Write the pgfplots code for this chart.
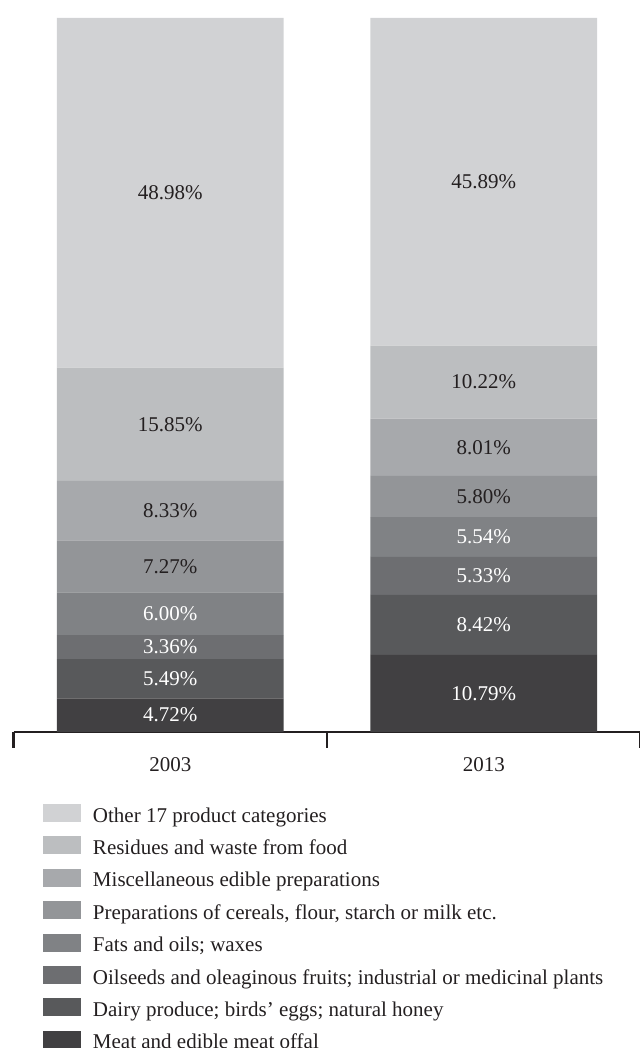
\documentclass[border=0pt]{standalone}
\usepackage{pgfplots}
\pgfplotsset{compat=1.18}
\usepackage{fontspec}
\setmainfont{Liberation Serif}
\definecolor{cOther}{HTML}{D1D2D4}
\definecolor{cRes}{HTML}{BCBEC0}
\definecolor{cMisc}{HTML}{A7A9AC}
\definecolor{cPrep}{HTML}{939598}
\definecolor{cFats}{HTML}{808285}
\definecolor{cOil}{HTML}{6D6E71}
\definecolor{cDairy}{HTML}{58595B}
\definecolor{cMeat}{HTML}{414042}
\definecolor{txt}{HTML}{231F20}
\begin{document}
\fontsize{21bp}{25bp}\selectfont
\begin{tikzpicture}
\path[use as bounding box] (0,0) rectangle (640bp,1048bp);
\begin{axis}[
  at={(13.5bp,316bp)}, anchor=south west,
  scale only axis, width=627bp, height=714bp,
  ybar stacked, bar width=0.724,
  xmin=-0.5, xmax=1.5, ymin=0, ymax=100,
  clip=false,
  axis x line*=bottom, axis y line=none,
  x axis line style={line width=2bp, color=txt},
  xtick={0,1}, xticklabels={2003,2013},
  major tick length=0pt,
  extra x ticks={-0.5,0.5,1.5}, extra x tick labels={},
  extra x tick style={major tick length=16bp, tick align=outside,
     tick style={line width=2.5bp, color=txt}},
  xticklabel style={anchor=base, yshift=-39bp, inner sep=0pt, text=txt, font=\fontsize{21bp}{25bp}\selectfont},
  visualization depends on={rawy \as \myrawy},
  nodes near coords={\pgfmathprintnumber[fixed,fixed zerofill,precision=2,assume math mode=true]{\myrawy}\%},
  every node near coord/.style={anchor=center, font=\fontsize{21bp}{25bp}\selectfont, inner sep=0pt},
  reverse legend,
  legend cell align=left,
  legend image code/.code={\fill[#1] (0bp,-5bp) rectangle (38bp,13bp); \path (50bp,0bp);},
  legend style={at={(0.04705,-0.10084)}, anchor=north west, draw=none, fill=none,
    inner sep=0pt, outer sep=0pt, row sep=9.4bp, text=txt,
    font=\fontsize{21bp}{25bp}\selectfont,
    nodes={inner sep=0pt, text height=15bp, text depth=5bp}},
]
\addplot[fill=cMeat, draw=none, every node near coord/.append style={text=white}] coordinates {(0,4.72) (1,10.79)};
\addlegendentry{Meat and edible meat offal}
\addplot[fill=cDairy, draw=none, every node near coord/.append style={text=white}] coordinates {(0,5.49) (1,8.42)};
\addlegendentry{Dairy produce; birds' eggs; natural honey}
\addplot[fill=cOil, draw=none, every node near coord/.append style={text=white}] coordinates {(0,3.36) (1,5.33)};
\addlegendentry{Oilseeds and oleaginous fruits; industrial or medicinal plants}
\addplot[fill=cFats, draw=none, every node near coord/.append style={text=white}] coordinates {(0,6.00) (1,5.54)};
\addlegendentry{Fats and oils; waxes}
\addplot[fill=cPrep, draw=none, every node near coord/.append style={text=txt}] coordinates {(0,7.27) (1,5.80)};
\addlegendentry{Preparations of cereals, flour, starch or milk etc.}
\addplot[fill=cMisc, draw=none, every node near coord/.append style={text=txt}] coordinates {(0,8.33) (1,8.01)};
\addlegendentry{Miscellaneous edible preparations}
\addplot[fill=cRes, draw=none, every node near coord/.append style={text=txt}] coordinates {(0,15.85) (1,10.22)};
\addlegendentry{Residues and waste from food}
\addplot[fill=cOther, draw=none, every node near coord/.append style={text=txt}] coordinates {(0,48.98) (1,45.89)};
\addlegendentry{Other 17 product categories}
\end{axis}
\end{tikzpicture}
\end{document}
